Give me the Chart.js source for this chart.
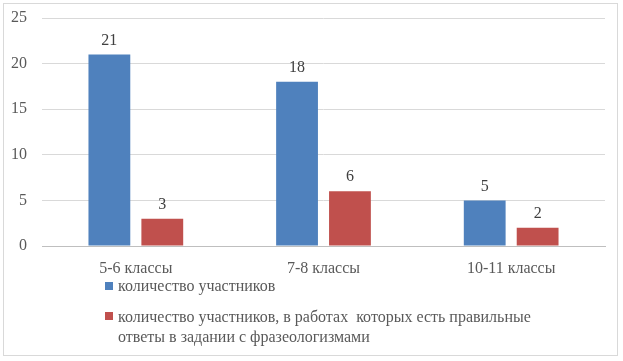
<!DOCTYPE html>
<html>
<head>
<meta charset="utf-8">
<script src="https://cdn.jsdelivr.net/npm/chart.js@4"></script>
<style>
  body { margin: 0; background: #fff; }
  #wrap { position: relative; width: 623px; height: 361px; }
  #frame { position: absolute; left: 3px; top: 3px; width: 613px; height: 351px; border: 1px solid #d9d9d9; }
  #chart { position: absolute; left: 0; top: 0; }
  .leg { position: absolute; font: 16px 'Liberation Serif', 'Times New Roman', serif; color: #595959; line-height: 20px; white-space: pre; }
  .sw { position: absolute; width: 8px; height: 8px; }
</style>
</head>
<body>
<div id="wrap">
  <div id="frame"></div>
  <canvas id="chart" width="623" height="361"></canvas>
  <div id="legend"></div>
</div>
<script>
const categories = ['5-6 классы', '7-8 классы', '10-11 классы'];
const participants = [21, 18, 5];
const correctAnswers = [3, 6, 2];
const seriesNames = [
  'количество участников',
  'количество участников, в работах  которых есть правильные\nответы в задании с фразеологизмами'
];
const seriesColors = ['#4f81bd', '#c0504d'];
const yTicks = [0, 5, 10, 15, 20, 25];

const FONT = "'Liberation Serif', 'Times New Roman', serif";

// value labels above bars
const valueLabels = {
  id: 'valueLabels',
  afterDatasetsDraw(chart) {
    const ctx = chart.ctx;
    ctx.save();
    ctx.font = '16px ' + FONT;
    ctx.fillStyle = '#404040';
    ctx.textAlign = 'center';
    ctx.textBaseline = 'bottom';
    chart.data.datasets.forEach((ds, i) => {
      chart.getDatasetMeta(i).data.forEach((bar, j) => {
        ctx.fillText(ds.data[j], bar.x, bar.y - 6);
      });
    });
    ctx.restore();
  }
};

function draw() {
  new Chart(document.getElementById('chart'), {
    type: 'bar',
    data: {
      labels: categories,
      datasets: [
        { label: seriesNames[0], data: participants, backgroundColor: seriesColors[0] },
        { label: seriesNames[1], data: correctAnswers, backgroundColor: seriesColors[1] }
      ]
    },
    options: {
      responsive: false,
      animation: false,
      categoryPercentage: 0.564,
      barPercentage: 0.79,
      layout: { padding: { left: 0, right: 18, top: 18, bottom: 75 } },
      plugins: { legend: { display: false }, tooltip: { enabled: false } },
      scales: {
        x: {
          grid: { display: false },
          border: { color: '#bfbfbf' },
          ticks: { color: '#595959', font: { family: FONT, size: 16 }, padding: 5 },
          afterFit: (axis) => { axis.height = 40; }
        },
        y: {
          min: 0, max: 25,
          afterBuildTicks: (axis) => { axis.ticks = yTicks.map(v => ({ value: v })); },
          border: { display: false },
          grid: { color: '#d9d9d9', drawTicks: false },
          // small lineHeight keeps the label half-height from pushing the plot top down
          ticks: { color: '#595959', font: { family: FONT, size: 16, lineHeight: 0.2 }, padding: 15 },
          afterFit: (axis) => { axis.width = 42; }
        }
      }
    },
    plugins: [valueLabels]
  });
}

// legend
const legend = document.getElementById('legend');
const legPos = [{ sq: 282, txt: 276 }, { sq: 312, txt: 307 }];
seriesNames.forEach((name, i) => {
  const sw = document.createElement('div');
  sw.className = 'sw';
  sw.style.left = '105px';
  sw.style.top = legPos[i].sq + 'px';
  sw.style.background = seriesColors[i];
  legend.appendChild(sw);
  const t = document.createElement('div');
  t.className = 'leg';
  t.style.left = '118px';
  t.style.top = legPos[i].txt + 'px';
  t.textContent = name;
  legend.appendChild(t);
});

document.fonts.load("16px 'Liberation Serif'").then(draw, draw);
</script>
</body>
</html>
